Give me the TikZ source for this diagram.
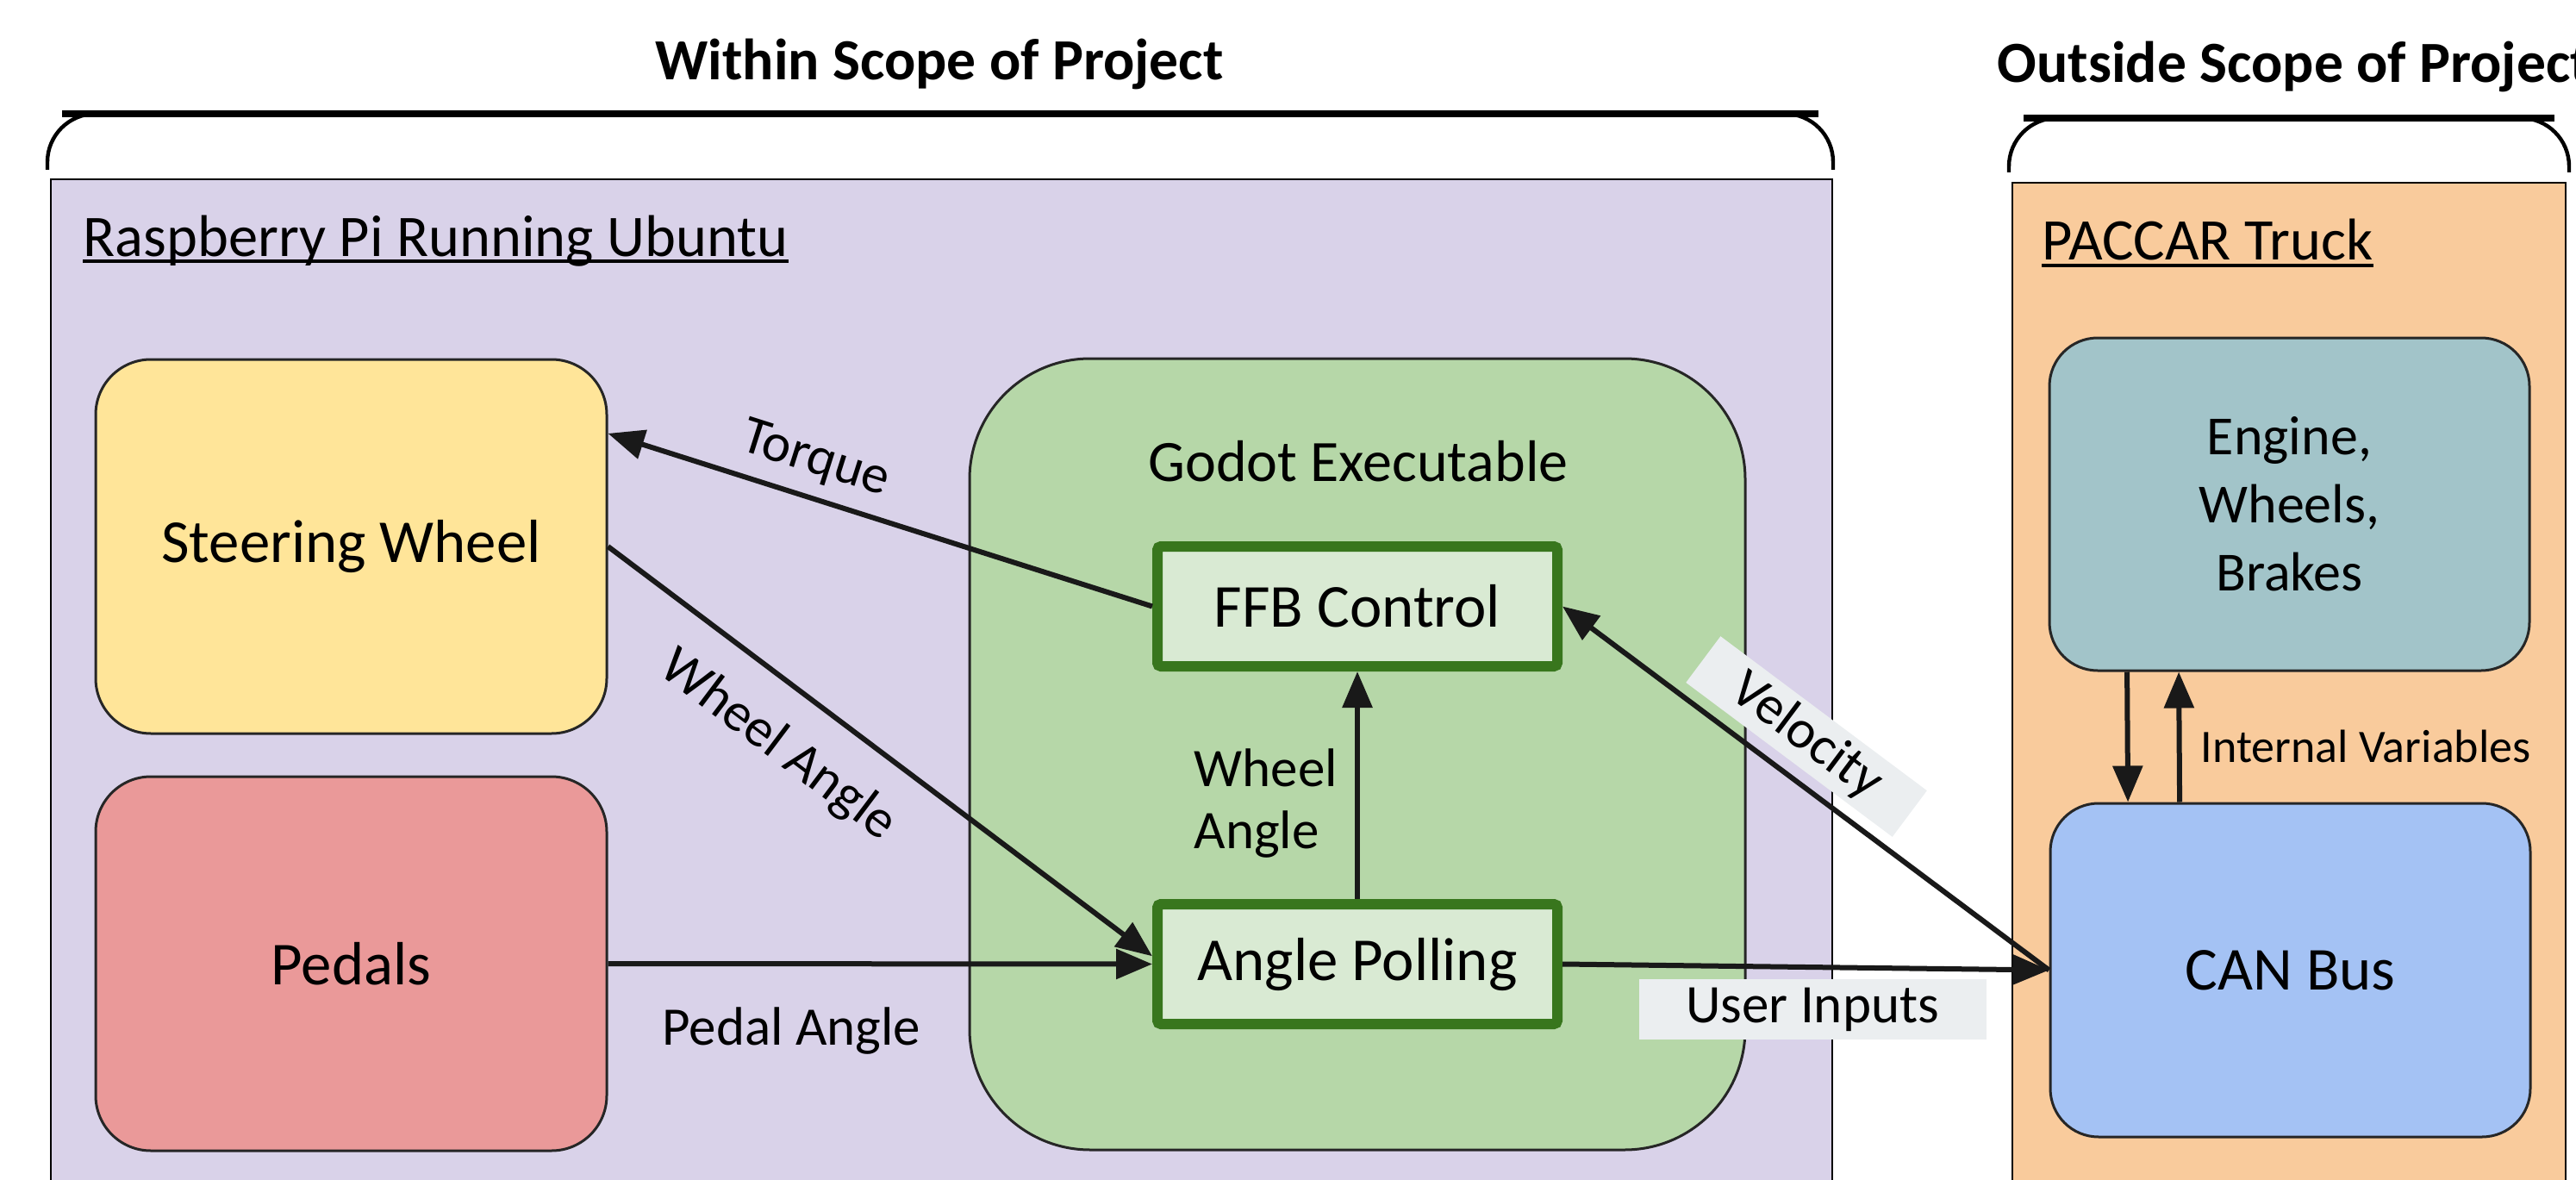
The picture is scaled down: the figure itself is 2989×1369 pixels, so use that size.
\documentclass[tikz,border=0pt]{standalone}
\usepackage{fontspec}
\setmainfont{Carlito}
\usetikzlibrary{arrows.meta,calc}
\definecolor{purplebg}{HTML}{D9D2E9}
\definecolor{orangebg}{HTML}{F9CB9C}
\definecolor{yellowbox}{HTML}{FFE599}
\definecolor{redbox}{HTML}{EA9999}
\definecolor{greenbox}{HTML}{B6D7A8}
\definecolor{ffbfill}{HTML}{D9EAD3}
\definecolor{ffbborder}{HTML}{38761D}
\definecolor{tealbox}{HTML}{A2C4C9}
\definecolor{bluebox}{HTML}{A4C2F4}
\definecolor{lblbg}{HTML}{EBEEF0}
\begin{document}
\begin{tikzpicture}[x=0.25pt,y=-0.25pt,
  boxtext/.style={font=\fontsize{17.7}{21}\selectfont},
  box/.style={draw=black!85, line width=0.75pt, rounded corners=16pt, minimum width=148.25pt, minimum height=108.5pt, align=center, inner sep=0pt, boxtext},
  sub/.style={draw=ffbborder, fill=ffbfill, line width=3pt, rounded corners=1pt, minimum width=116pt, minimum height=34.75pt, inner sep=0pt, boxtext},
  conn/.style={line width=1.5pt, draw=black!90, -{Triangle[length=10.5pt,width=8.5pt]}},
  lbl/.style={font=\fontsize{15.75}{18}\selectfont, inner sep=2pt},
  title/.style={font=\bfseries\fontsize{16.9}{20}\selectfont, inner sep=0pt},
  region/.style={font=\fontsize{17.1}{20}\selectfont, inner sep=0pt, anchor=base west},
  bracket/.style={line width=1.1pt, rounded corners=14pt}
]
\useasboundingbox (0,0) rectangle (2989,1369);
\clip (0,0) rectangle (2989,1369);

% titles and brackets
\node[title, anchor=base] (t1) at (1090,93) {Within Scope of Project};
\node[title, anchor=base west] (t2) at (2317,96) {Outside Scope of Project};
\draw[bracket] (55,197) -- (55,132) -- (2127,132) -- (2127,197);
\draw[line width=2pt] (72,132) -- (2110,132);
\draw[bracket] (2331,200) -- (2331,137) -- (2981,137) -- (2981,200);
\draw[line width=2pt] (2348,137) -- (2964,137);

% regions
\fill[purplebg] (59,208) rectangle (2126,1400);
\draw[line width=0.6pt] (59,1400) -- (59,208) -- (2126,208) -- (2126,1400);
\fill[orangebg] (2335,212) rectangle (2977,1400);
\draw[line width=0.6pt] (2335,1400) -- (2335,212) -- (2977,212) -- (2977,1400);

\node[region] (rpi) at (96,297) {Raspberry Pi Running Ubuntu};
\draw[line width=1pt] ([yshift=-1.6pt]rpi.base west) -- ([yshift=-1.6pt]rpi.base east);
\node[region] (pac) at (2369,302) {PACCAR Truck};
\draw[line width=1pt] ([yshift=-1.6pt]pac.base west) -- ([yshift=-1.6pt]pac.base east);

% boxes
\node[box, fill=yellowbox] (sw) at (407.5,634) {Steering Wheel};
\node[box, fill=redbox] (ped) at (407.5,1118) {Pedals};
\node[box, fill=greenbox, rounded corners=35pt, minimum width=225pt, minimum height=229.5pt] (godot) at (1575,875) {};
\node[boxtext, anchor=base, inner sep=0pt, font=\fontsize{17}{20}\selectfont] (godotlbl) at (1576,558) {Godot Executable};
\node[sub] (ffb) at (1575,703.5) {FFB Control};
\node[sub] (ap) at (1575,1118.5) {Angle Polling};
\node[box, fill=tealbox, rounded corners=14pt, minimum width=139.25pt, minimum height=96.5pt, font=\fontsize{16}{19.75}\selectfont] (eng) at (2656.5,585) {Engine,\\Wheels,\\Brakes};
\node[box, fill=bluebox, rounded corners=14pt, minimum width=139.25pt, minimum height=96.75pt] (can) at (2657.5,1125.5) {CAN Bus};

% connectors
\draw[conn] (ffb.west) -- node[lbl, sloped, above=1.75pt, pos=0.64] (ltorque) {Torque} ($(sw.north east)!0.2!(sw.south east)$);
\draw[conn] (sw.east) -- node[lbl, sloped, below=7pt, pos=0.375] (lwa) {Wheel Angle} ([yshift=2.3pt]ap.west);
\draw[conn] (ped.east) -- node[lbl, below=10pt, pos=0.337] (lpa) {Pedal Angle} (ap.west);
\draw[conn] (ap.north) -- node[lbl, left=3pt, pos=0.42, align=left, font=\fontsize{15.75}{18}\selectfont] (lwa2) {Wheel\\Angle} (ffb.south);
\draw[conn] (can.west) -- node[lbl, sloped, above=3pt, pos=0.55, fill=lblbg, minimum width=74.75pt, minimum height=16.75pt, inner sep=0pt] (lvel) {Velocity} (ffb.east);
\draw[conn] (ap.east) -- node[lbl, below=2.75pt, pos=0.514, fill=lblbg, minimum width=100.75pt, minimum height=17.5pt, inner sep=0pt] (lui) {User Inputs} (can.west);
\draw[conn] ([xshift=-47.1pt]eng.south) -- ([xshift=-47.1pt]can.north);
\draw[conn] ([xshift=-32.1pt]can.north) -- ([xshift=-32.1pt]eng.south);
\node[anchor=base west, inner sep=0pt, font=\fontsize{13.5}{15}\selectfont] (iv) at (2553,884) {Internal Variables};
\end{tikzpicture}
\end{document}
